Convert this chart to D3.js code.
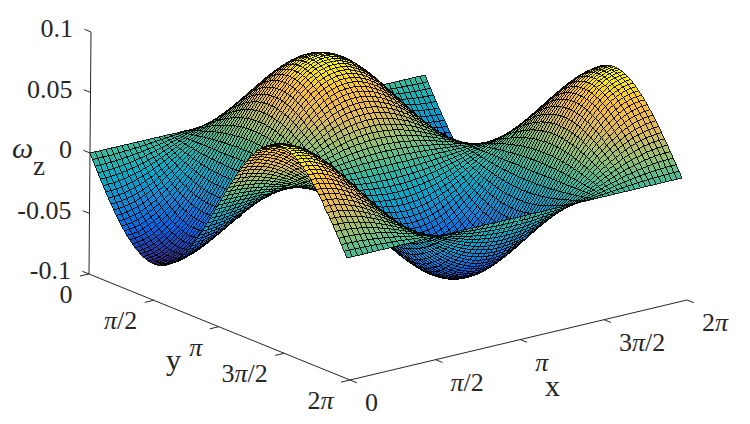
<!DOCTYPE html>
<html><head><meta charset="utf-8">
<script src="https://cdn.jsdelivr.net/npm/d3@7"></script>
<style>html,body{margin:0;padding:0;background:#fff}svg{display:block}text{font-family:"Liberation Serif",serif;fill:#262626}</style>
</head><body><svg id="c" width="750" height="424"></svg>
<script>
// Surface: it factors into one height profile per axis
// (65 samples along x, 97 along y, the mesh density seen in the reference).
const peakHeight = 0.07;
const profileAlongX = [-1,-.9952,-.9808,-.9569,-.9239,-.8819,-.8315,-.773,-.7071,-.6344,-.5556,-.4714,-.3827,-.2903,-.1951,-.098,0,.098,.1951,.2903,.3827,.4714,.5556,.6344,.7071,.773,.8315,.8819,.9239,.9569,.9808,.9952,1,.9952,.9808,.9569,.9239,.8819,.8315,.773,.7071,.6344,.5556,.4714,.3827,.2903,.1951,.098,0,-.098,-.1951,-.2903,-.3827,-.4714,-.5556,-.6344,-.7071,-.773,-.8315,-.8819,-.9239,-.9569,-.9808,-.9952,-1];
const profileAlongY = [0,.0654,.1305,.1951,.2588,.3214,.3827,.4423,.5,.5556,.6088,.6593,.7071,.7518,.7934,.8315,.866,.8969,.9239,.9469,.9659,.9808,.9914,.9979,1,.9979,.9914,.9808,.9659,.9469,.9239,.8969,.866,.8315,.7934,.7518,.7071,.6593,.6088,.5556,.5,.4423,.3827,.3214,.2588,.1951,.1305,.0654,0,-.0654,-.1305,-.1951,-.2588,-.3214,-.3827,-.4423,-.5,-.5556,-.6088,-.6593,-.7071,-.7518,-.7934,-.8315,-.866,-.8969,-.9239,-.9469,-.9659,-.9808,-.9914,-.9979,-1,-.9979,-.9914,-.9808,-.9659,-.9469,-.9239,-.8969,-.866,-.8315,-.7934,-.7518,-.7071,-.6593,-.6088,-.5556,-.5,-.4423,-.3827,-.3214,-.2588,-.1951,-.1305,-.0654,0];
const xTicks = [0,0.25,0.5,0.75,1];
const xTickLabels = ["0","π/2","π","3π/2","2π"];
const yTicks = [0,0.25,0.5,0.75,1];
const yTickLabels = ["0","π/2","π","3π/2","2π"];
const zTicks = [-0.1,-0.05,0,0.05,0.1];
const zTickLabels = ["-0.1","-0.05","0","0.05","0.1"];
const parula = ["#352a87","#0363e1","#1485d4","#06a7c6","#38b99e","#92bf73","#dcb95a","#fdbe3a","#f9fb0e"];

const svg = d3.select("#c");
const nx = profileAlongX.length - 1, ny = profileAlongY.length - 1;
const xs = d3.scaleLinear().domain([0,nx]).range([0,1]);
const ys = d3.scaleLinear().domain([0,ny]).range([0,1]);
const zs = d3.scaleLinear().domain([-0.1,0]).range([0,1]);
const colour = d3.scaleLinear()
  .domain(d3.range(parula.length).map(i => -peakHeight + 2*peakHeight*i/(parula.length-1)))
  .range(parula).interpolate(d3.interpolateRgb);

// Camera: two planes of the axis box located on the page, corners in order
// (x0,y0),(x2pi,y0),(x2pi,y2pi),(x0,y2pi)
function quadMap(q){
  const [p0,p1,p2,p3]=q;
  const dx1=p1[0]-p2[0],dx2=p3[0]-p2[0],sx=p0[0]-p1[0]+p2[0]-p3[0];
  const dy1=p1[1]-p2[1],dy2=p3[1]-p2[1],sy=p0[1]-p1[1]+p2[1]-p3[1];
  const den=dx1*dy2-dx2*dy1;
  const g=(sx*dy2-dx2*sy)/den,h=(dx1*sy-sx*dy1)/den;
  const a=p1[0]-p0[0]+g*p1[0],b=p3[0]-p0[0]+h*p3[0],c=p0[0];
  const d=p1[1]-p0[1]+g*p1[1],e=p3[1]-p0[1]+h*p3[1],f=p0[1];
  return (s,t)=>{const w=g*s+h*t+1;return [(a*s+b*t+c)/w,(d*s+e*t+f)/w];};
}
const floorPlane = quadMap([[89,274],[428,197],[687,300],[350,380]]);
const zeroPlane  = quadMap([[90,153],[425,75],[682,178],[347,258]]);
function project(s,t,z){
  const a=floorPlane(s,t),b=zeroPlane(s,t),k=zs(z);
  return [a[0]+(b[0]-a[0])*k,a[1]+(b[1]-a[1])*k];
}
const height=(i,j)=>peakHeight*profileAlongX[i]*profileAlongY[j];

// surface, back to front
const cells=[];
for(let i=nx-1;i>=0;i--) for(let j=0;j<ny;j++) cells.push([i,j]);
svg.append("g").selectAll("path").data(cells).join("path")
  .attr("d",([i,j])=>{
    const P=[[i,j],[i+1,j],[i+1,j+1],[i,j+1]].map(([a,b])=>project(xs(a),ys(b),height(a,b)));
    return "M"+P.map(p=>p[0].toFixed(2)+","+p[1].toFixed(2)).join("L")+"Z";
  })
  .attr("fill",([i,j])=>colour(height(i,j)))
  .attr("stroke","#000").attr("stroke-width",0.85)
  .attr("shape-rendering","crispEdges");

// axes
const axes=svg.append("g").attr("stroke","#262626").attr("stroke-width",1).attr("fill","none");
const seg=(a,b)=>axes.append("line").attr("x1",a[0]).attr("y1",a[1]).attr("x2",b[0]).attr("y2",b[1]);
const zmin=-0.1;
seg(project(0,0,-0.1),project(0,0,0.1));
seg(project(0,0,zmin),project(0,1,zmin));
seg(project(0,1,zmin),project(1,1,zmin));
const tick=0.026;
zTicks.forEach(z=>seg(project(0,0,z),project(0,-tick,z)));
yTicks.forEach(y=>seg(project(0,y,zmin),project(-tick,y,zmin)));
xTicks.forEach(x=>seg(project(x,1,zmin),project(x,1+tick,zmin)));

// labels
const label=(s,x,y,anchor,size,italic)=>{
  const t=svg.append("text").attr("x",x).attr("y",y).attr("text-anchor",anchor).attr("font-size",size).attr("font-style",italic?"italic":null);
  s.split(/(π)/).filter(d=>d).forEach(part=>t.append("tspan").attr("font-style",part==="π"?"italic":null).text(part));
  return t;
};
const FS=26;
zTicks.forEach((z,i)=>{const p=project(0,0,z);label(zTickLabels[i],p[0]-18,p[1]+5,"end",FS);});
yTicks.forEach((y,i)=>{const p=project(0,y,zmin);label(yTickLabels[i],p[0]-16.5,p[1]+29,"end",FS);});
xTicks.forEach((x,i)=>{const p=project(x,1,zmin);label(xTickLabels[i],p[0]+15,p[1]+31,"start",FS);});
label("y",166,370,"start",30);
label("x",545,396,"start",30);
label("ω",12,158,"start",30,true);
label("z",33,175,"start",27);
</script></body></html>
